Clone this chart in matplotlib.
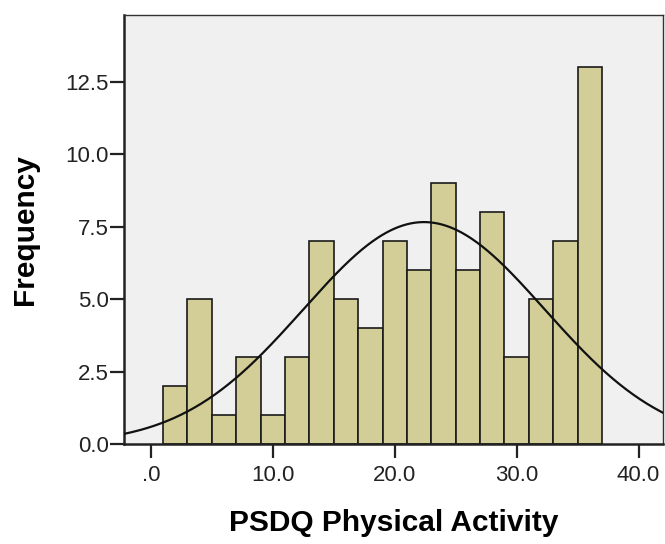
import numpy as np
import matplotlib
matplotlib.use("Agg")
import matplotlib.pyplot as plt

# Histogram bins (width 2) and counts
bin_edges = [1, 3, 5, 7, 9, 11, 13, 15, 17, 19, 21, 23, 25, 27, 29, 31, 33, 35, 37]
counts = [2, 5, 1, 3, 1, 3, 7, 5, 4, 7, 6, 9, 6, 8, 3, 5, 7, 13]

# Normal curve parameters
mean = 22.4
std_dev = 9.9

x_ticks = [0, 10, 20, 30, 40]
x_tick_labels = [".0", "10.0", "20.0", "30.0", "40.0"]
y_ticks = [0, 2.5, 5, 7.5, 10, 12.5]
y_tick_labels = ["0.0", "2.5", "5.0", "7.5", "10.0", "12.5"]

plt.rcParams['font.family'] = ['Liberation Sans', 'DejaVu Sans']

fig = plt.figure(figsize=(6.65, 5.44), dpi=100)
ax = fig.add_axes([0.1865, 0.1838, 0.8105, 0.7886])
ax.set_facecolor("#f0f0f0")

edges = np.array(bin_edges, dtype=float)
widths = np.diff(edges)
ax.bar(edges[:-1], counts, width=widths, align="edge",
       color="#d3ce97", edgecolor="#1a1a1a", linewidth=1.2, zorder=2)

n = sum(counts)
bw = widths[0]
xs = np.linspace(-2.2, 42.0, 400)
ys = n * bw / (std_dev * np.sqrt(2 * np.pi)) * np.exp(-0.5 * ((xs - mean) / std_dev) ** 2)
ax.plot(xs, ys, color="#111111", linewidth=1.6, zorder=3)

ax.set_xlim(-2.2, 42.0)
ax.set_ylim(0, 14.8)
ax.set_xticks(x_ticks)
ax.set_xticklabels(x_tick_labels)
ax.set_yticks(y_ticks)
ax.set_yticklabels(y_tick_labels)
ax.tick_params(axis="both", direction="out", length=10, width=1.6,
               color="#222222", labelsize=16, labelcolor="#222222")
ax.tick_params(axis="y", pad=1)
ax.tick_params(axis="x", pad=5)

for side in ["left", "bottom"]:
    ax.spines[side].set_linewidth(1.8)
    ax.spines[side].set_color("#222222")
for side in ["top", "right"]:
    ax.spines[side].set_linewidth(1.0)
    ax.spines[side].set_color("#333333")

ax.set_ylabel("Frequency", fontsize=21.5, fontweight="bold", labelpad=19)
ax.set_xlabel("PSDQ Physical Activity", fontsize=21.5, fontweight="bold", labelpad=17)

fig.savefig("out.png", dpi=100, facecolor="white")
